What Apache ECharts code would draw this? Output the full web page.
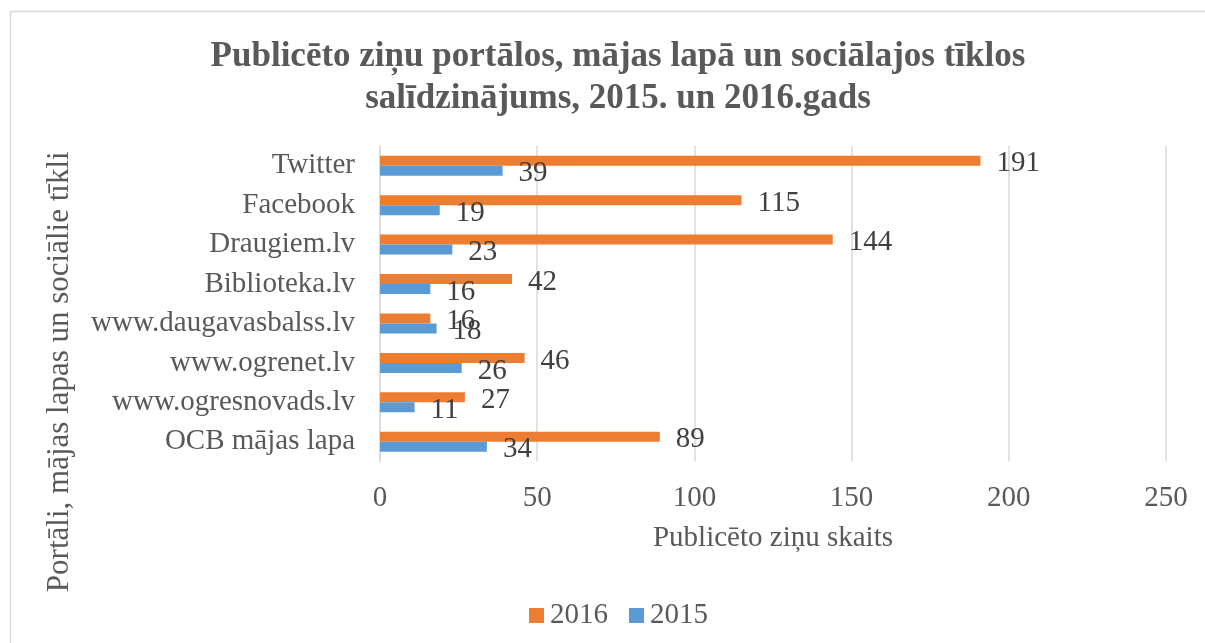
<!DOCTYPE html>
<html>
<head>
<meta charset="utf-8">
<script src="https://cdn.jsdelivr.net/npm/echarts@6/dist/echarts.min.js"></script>
<style>
  html, body { margin: 0; padding: 0; background: #fff; }
  #chart { width: 1205px; height: 643px; }
</style>
</head>
<body>
<div id="chart"></div>
<script>
// categories listed bottom-to-top (ECharts y category axis starts at the bottom)
const categories = [
  "OCB mājas lapa",
  "www.ogresnovads.lv",
  "www.ogrenet.lv",
  "www.daugavasbalss.lv",
  "Biblioteka.lv",
  "Draugiem.lv",
  "Facebook",
  "Twitter"
];
const values2016 = [89, 27, 46, 16, 42, 144, 115, 191];
const values2015 = [34, 11, 26, 18, 16, 23, 19, 39];
const xTicks = [0, 50, 100, 150, 200, 250];

const font = "'Liberation Serif', 'Times New Roman', serif";
const chart = echarts.init(document.getElementById("chart"));

const labelStyle = {
  show: true,
  position: "right",
  distance: 16,
  offset: [0, 3],
  fontFamily: font,
  fontSize: 29,
  color: "#404040"
};

chart.setOption({
  animation: false,
  backgroundColor: "#fff",
  textStyle: { fontFamily: font },
  graphic: [
    {
      type: "rect",
      shape: { x: 10.5, y: 11.5, width: 1400, height: 900 },
      style: { fill: "none", stroke: "#d9d9d9", lineWidth: 1.5 },
      silent: true
    }
  ],
  title: {
    text: "Publicēto ziņu portālos, mājas lapā un sociālajos tīklos\nsalīdzinājums, 2015. un 2016.gads",
    left: 613,
    top: 31,
    textAlign: "center",
    textStyle: {
      fontFamily: font,
      fontSize: 35,
      fontWeight: "bold",
      color: "#595959",
      lineHeight: 42
    }
  },
  legend: {
    data: ["2016", "2015"],
    left: 529,
    top: 601,
    padding: 0,
    itemWidth: 15,
    itemHeight: 15,
    itemGap: 21,
    icon: "rect",
    textStyle: { fontFamily: font, fontSize: 29, color: "#595959", padding: [0, 0, 0, 1] }
  },
  grid: { left: 380, right: 39, top: 146, height: 315.5 },
  xAxis: {
    type: "value",
    min: xTicks[0],
    max: xTicks[xTicks.length - 1],
    interval: 50,
    name: "Publicēto ziņu skaits",
    nameLocation: "middle",
    nameGap: 62,
    nameTextStyle: { fontFamily: font, fontSize: 29, color: "#595959" },
    axisLine: { show: false },
    axisTick: { show: false },
    axisLabel: { fontFamily: font, fontSize: 29, color: "#595959", margin: 22 },
    splitLine: { lineStyle: { color: "#d9d9d9", width: 1.5 } }
  },
  yAxis: {
    type: "category",
    data: categories,
    name: "Portāli, mājas lapas un sociālie tīkli",
    nameLocation: "middle",
    nameGap: 305,
    nameTextStyle: { fontFamily: font, fontSize: 31, color: "#595959", padding: [0, 136, 0, 0] },
    axisLine: { lineStyle: { color: "#d9d9d9", width: 1.5 } },
    axisTick: { show: false },
    axisLabel: { fontFamily: font, fontSize: 29, color: "#595959", margin: 25 }
  },
  series: [
    {
      name: "2016",
      type: "bar",
      data: values2016,
      barWidth: 10,
      barGap: "0%",
      itemStyle: { color: "#ed7d31" },
      label: labelStyle
    },
    {
      name: "2015",
      type: "bar",
      data: values2015,
      barWidth: 10,
      barGap: "0%",
      itemStyle: { color: "#5b9bd5" },
      label: labelStyle
    }
  ]
});
</script>
</body>
</html>
